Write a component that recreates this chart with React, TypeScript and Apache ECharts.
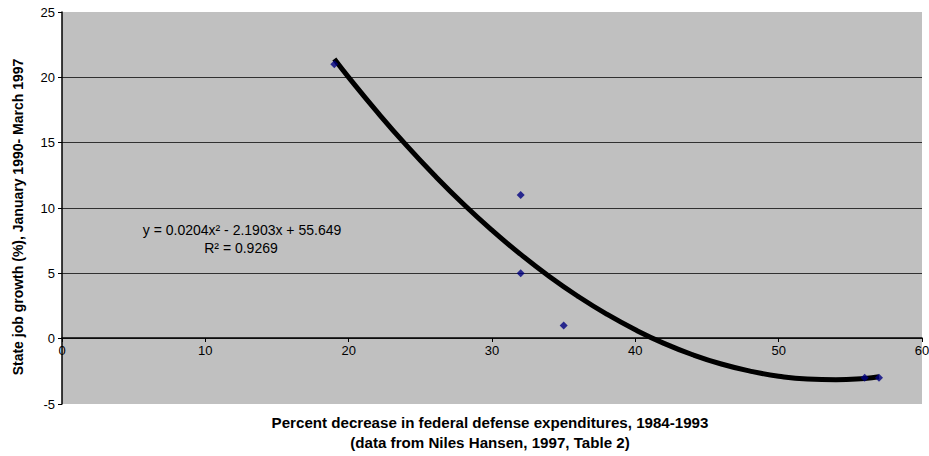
import React, { useEffect, useRef } from "react";
import * as echarts from "echarts";

const pointsX = [19, 32, 32, 35, 56, 57];
const pointsY = [21, 11, 5, 1, -3, -3];

const trendX = [19, 20, 22, 24, 26, 28, 30, 32, 34, 36, 38, 40, 42, 44, 46, 48, 50, 52, 54, 56, 57];
const trendY = [21.4, 20.0, 17.34, 14.83, 12.49, 10.31, 8.3, 6.45, 4.76, 3.24, 1.88, 0.68, -0.36, -1.23, -1.94, -2.48, -2.87, -3.09, -3.14, -3.04, -2.92];

const equationLine = "y = 0.0204x² - 2.1903x + 55.649";
const r2Line = "R² = 0.9269";
const yTitle = "State job growth (%), January 1990- March 1997";
const xTitle1 = "Percent decrease in federal defense expenditures, 1984-1993";
const xTitle2 = "(data from Niles Hansen, 1997, Table 2)";

export default function App() {
  const ref = useRef<HTMLDivElement>(null);
  useEffect(() => {
    if (!ref.current) return;
    const chart = echarts.init(ref.current, null, { renderer: "svg" });
    const font = "'Liberation Sans', Arial, sans-serif";
    chart.setOption({
      animation: false,
      backgroundColor: "#ffffff",
      grid: [
        {
          left: 62,
          right: 7,
          top: 12,
          bottom: 52,
          show: true,
          backgroundColor: "#c0c0c0",
          borderWidth: 0,
          containLabel: false,
          outerBoundsMode: "none",
        },
        {
          // upper part of the plot: from y=25 down to y=0, carries the x-axis on the zero line
          left: 62,
          right: 7,
          top: 12,
          bottom: 118,
          show: false,
          containLabel: false,
          outerBoundsMode: "none",
        },
      ],
      xAxis: [
        {
          type: "value",
          gridIndex: 0,
          min: 0,
          max: 60,
          interval: 10,
          axisLine: { show: false },
          axisTick: { show: false },
          axisLabel: { show: false },
          splitLine: { show: false },
        },
        {
          type: "value",
          gridIndex: 1,
          min: 0,
          max: 60,
          interval: 10,
          position: "bottom",
          axisLine: { show: true, onZero: false, lineStyle: { color: "#000", width: 1.5 } },
          axisTick: { show: true, length: 4, inside: false, lineStyle: { color: "#000" } },
          axisLabel: { color: "#000", fontSize: 13, fontFamily: font, margin: 6 },
          splitLine: { show: false },
        },
      ],
      yAxis: [
        {
          type: "value",
          gridIndex: 0,
          min: -5,
          max: 25,
          interval: 5,
          axisLine: { show: true, onZero: false, lineStyle: { color: "#000", width: 1.5 } },
          axisTick: { show: true, length: 4, lineStyle: { color: "#000" } },
          axisLabel: { color: "#000", fontSize: 13, fontFamily: font, margin: 7 },
          splitLine: {
            show: true,
            showMinLine: false,
            showMaxLine: false,
            lineStyle: { color: "#303030", width: 1.2 },
          },
        },
        {
          type: "value",
          gridIndex: 1,
          min: 0,
          max: 25,
          show: false,
        },
      ],
      series: [
        {
          type: "line",
          xAxisIndex: 0,
          yAxisIndex: 0,
          data: trendX.map((x, i) => [x, trendY[i]]),
          smooth: true,
          showSymbol: false,
          lineStyle: { color: "#000", width: 5 },
          z: 2,
        },
        {
          type: "scatter",
          xAxisIndex: 0,
          yAxisIndex: 0,
          data: pointsX.map((x, i) => [x, pointsY[i]]),
          symbol: "diamond",
          symbolSize: 8,
          itemStyle: { color: "#000080" },
          z: 3,
        },
      ],
      graphic: [
        {
          type: "text",
          x: 242,
          y: 230,
          style: { text: equationLine, fill: "#000", font: `14px ${font}`, textAlign: "center", textVerticalAlign: "middle" },
        },
        {
          type: "text",
          x: 241,
          y: 248,
          style: { text: r2Line, fill: "#000", font: `14px ${font}`, textAlign: "center", textVerticalAlign: "middle" },
        },
        {
          type: "text",
          x: 490,
          y: 423,
          scaleX: 1.08,
          style: { text: xTitle1, fill: "#000", font: `bold 14px ${font}`, textAlign: "center", textVerticalAlign: "middle" },
        },
        {
          type: "text",
          x: 490,
          y: 443,
          scaleX: 1.08,
          style: { text: xTitle2, fill: "#000", font: `bold 14px ${font}`, textAlign: "center", textVerticalAlign: "middle" },
        },
        {
          type: "text",
          x: 18,
          y: 217,
          rotation: Math.PI / 2,
          style: { text: yTitle, fill: "#000", font: `bold 14px ${font}`, textAlign: "center", textVerticalAlign: "middle" },
        },
      ],
    });
    return () => chart.dispose();
  }, []);
  return <div ref={ref} style={{ width: 929, height: 456, position: "absolute", left: 0, top: 0 }} />;
}
